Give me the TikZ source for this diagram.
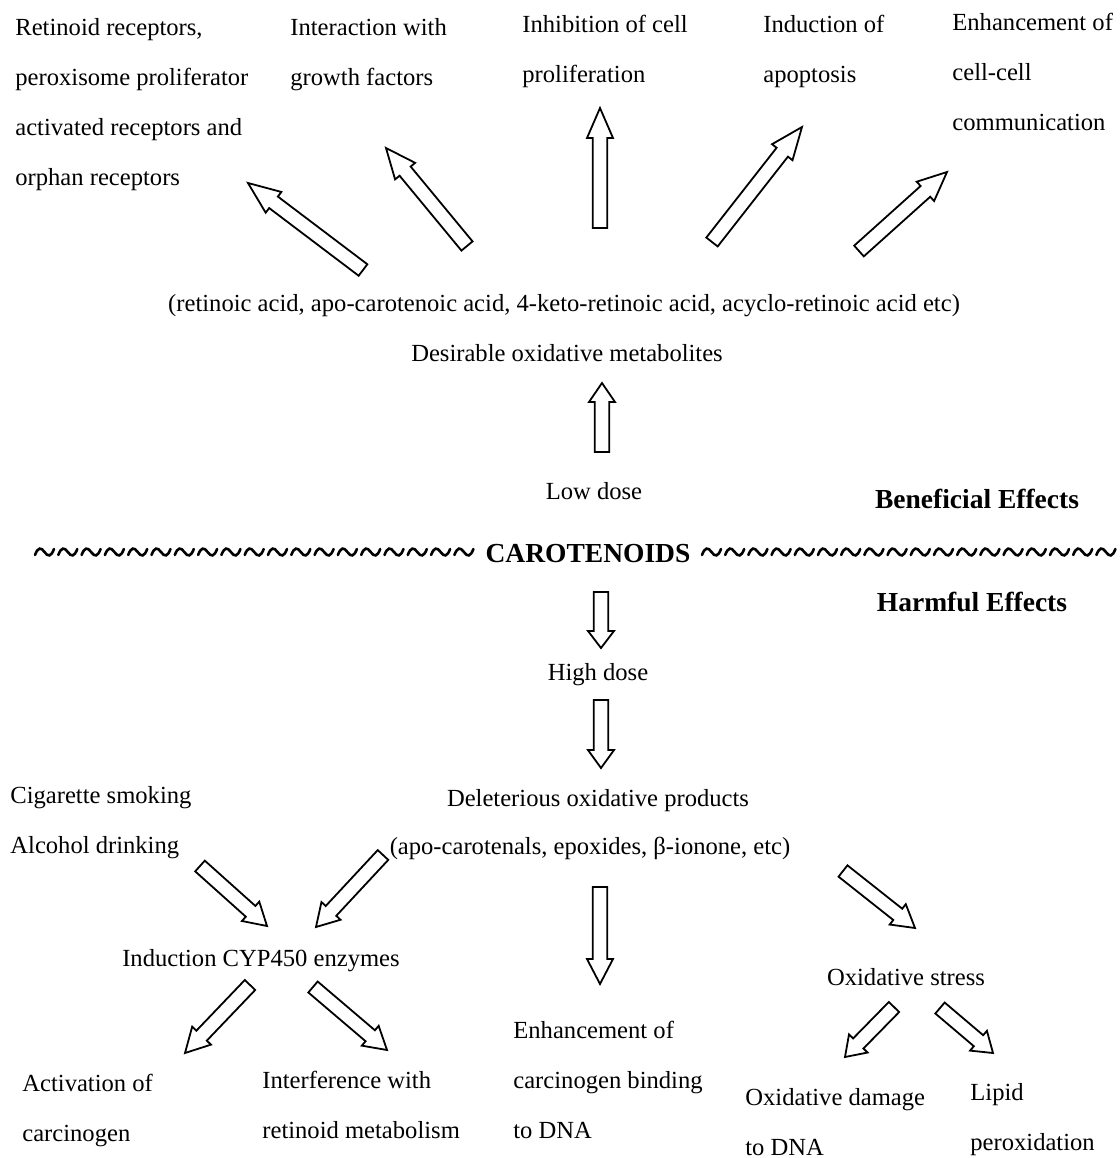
\documentclass[tikz,border=0pt]{standalone}
\usepackage{fontspec}
\setmainfont{Liberation Serif}
\usepackage{tikz}
\usetikzlibrary{calc,positioning}

\tikzstyle{txt} = [inner sep=0pt, font=\fontsize{12.3}{25}\selectfont]
\tikzstyle{multi} = [txt, align=left, anchor=north west]
\tikzstyle{bigbold} = [inner sep=0pt, anchor=base, font=\fontsize{13.75}{16}\selectfont\bfseries]
\tikzstyle{hollow} = [draw=black, line width=0.9pt, fill=white, line join=miter]
\tikzstyle{tilde} = [line width=1.3pt, line cap=round]

% hollow block arrow from #2 to #3, #1 = length of the head
\newcommand{\hollowarrow}[3][11pt]{%
  \draw[hollow] ($(#2)!3.6pt!90:(#3)$)
     -- ($(#3)!#1!(#2)!3.6pt!-90:(#2)$)
     -- ($(#3)!#1!(#2)!6.5pt!-90:(#2)$)
     -- (#3)
     -- ($(#3)!#1!(#2)!6.5pt!90:(#2)$)
     -- ($(#3)!#1!(#2)!3.6pt!90:(#2)$)
     -- ($(#2)!3.6pt!-90:(#3)$) -- cycle;}

\begin{document}
\begin{tikzpicture}[x=0.5pt,y=-0.5pt]
\useasboundingbox (0,0) rectangle (1120,1158);

%% Beneficial effects
\node[multi] (receptors) at (15,18) {Retinoid receptors,\\peroxisome proliferator\\activated receptors and\\orphan receptors};
\node[multi] (growth) at (290,18) {Interaction with\\growth factors};
\node[multi] (prolif) at (522,15) {Inhibition of cell\\proliferation};
\node[multi] (apoptosis) at (763,15) {Induction of\\apoptosis};
\node[multi] (commun) at (952,13) {Enhancement of\\cell-cell\\communication};

\node[txt,anchor=base] (acids) at (564,311) {(retinoic acid, apo-carotenoic acid, 4-keto-retinoic acid, acyclo-retinoic acid etc)};
\node[txt,anchor=base] (desirable) at (567,361) {Desirable oxidative metabolites};
\node[txt,anchor=base] (lowdose) at (594,499) {Low dose};
\node[bigbold] (benef) at (977,508) {Beneficial Effects};

%% Carotenoids line
\node[bigbold] (carot) at (588,562) {CAROTENOIDS};
\foreach \i in {0,...,18}{
  \pgfmathsetmacro\tx{35+23.3*\i}
  \draw[tilde] (\tx,555) .. controls (\tx+3,547) and (\tx+6,547) .. (\tx+9.5,552)
     .. controls (\tx+13,557) and (\tx+16,557) .. (\tx+19,549);
}
\foreach \i in {0,...,17}{
  \pgfmathsetmacro\tx{702+23.2*\i}
  \draw[tilde] (\tx,555) .. controls (\tx+3,547) and (\tx+6,547) .. (\tx+9.5,552)
     .. controls (\tx+13,557) and (\tx+16,557) .. (\tx+19,549);
}

%% Harmful effects
\node[bigbold] (harm) at (972,611) {Harmful Effects};
\node[txt,anchor=base] (highdose) at (598,680) {High dose};
\node[txt,anchor=base] (delet) at (598,806) {Deleterious oxidative products};
\node[txt,anchor=base] (apocar) at (590,854) {(apo-carotenals, epoxides, β-ionone, etc)};
\node[multi] (habits) at (10,786) {Cigarette smoking\\Alcohol drinking};
\node[txt,anchor=base] (cyp) at (261,966) {Induction CYP450 enzymes};
\node[txt,anchor=base] (oxstress) at (906,985) {Oxidative stress};
\node[multi] (binding) at (513,1021) {Enhancement of\\carcinogen binding\\to DNA};
\node[multi] (activ) at (22,1074) {Activation of\\carcinogen};
\node[multi] (interf) at (262,1071) {Interference with\\retinoid metabolism};
\node[multi] (damage) at (745,1088) {Oxidative damage\\to DNA};
\node[multi] (lipid) at (970,1083) {Lipid\\peroxidation};

%% Arrow ends
\coordinate (up1s) at (363,270); \coordinate (up1e) at (248,183);
\coordinate (up2s) at (467,246); \coordinate (up2e) at (386,148);
\coordinate (up3s) at (600,228); \coordinate (up3e) at (600,108);
\coordinate (up4s) at (712,242); \coordinate (up4e) at (802,127);
\coordinate (up5s) at (859,251); \coordinate (up5e) at (947,172);
\coordinate (lows) at (602,452); \coordinate (lowe) at (602,383);
\coordinate (hi1s) at (601,592); \coordinate (hi1e) at (601,648);
\coordinate (hi2s) at (601,700); \coordinate (hi2e) at (601,768);
\coordinate (dns) at (600,887); \coordinate (dne) at (600,984);
\coordinate (habs) at (200,866); \coordinate (habe) at (267,926);
\coordinate (apos) at (383,855); \coordinate (apoe) at (316,927);
\coordinate (oxs) at (843,871); \coordinate (oxe) at (915,928);
\coordinate (cyp1s) at (250,985); \coordinate (cyp1e) at (185,1053);
\coordinate (cyp2s) at (313,987); \coordinate (cyp2e) at (387,1050);
\coordinate (ox1s) at (894,1007); \coordinate (ox1e) at (845,1057);
\coordinate (ox2s) at (940,1008); \coordinate (ox2e) at (993,1053);

%% Draw arrows
\hollowarrow[16pt]{up1s}{up1e}
\hollowarrow[15pt]{up2s}{up2e}
\hollowarrow[15pt]{up3s}{up3e}
\hollowarrow[16pt]{up4s}{up4e}
\hollowarrow[14.5pt]{up5s}{up5e}
\hollowarrow[9.5pt]{lows}{lowe}
\hollowarrow[8.5pt]{hi1s}{hi1e}
\hollowarrow[9pt]{hi2s}{hi2e}
\hollowarrow[12.5pt]{dns}{dne}
\hollowarrow{habs}{habe}
\hollowarrow{apos}{apoe}
\hollowarrow{oxs}{oxe}
\hollowarrow[12pt]{cyp1s}{cyp1e}
\hollowarrow[11pt]{cyp2s}{cyp2e}
\hollowarrow[9.5pt]{ox1s}{ox1e}
\hollowarrow[9.5pt]{ox2s}{ox2e}

\end{tikzpicture}
\end{document}
